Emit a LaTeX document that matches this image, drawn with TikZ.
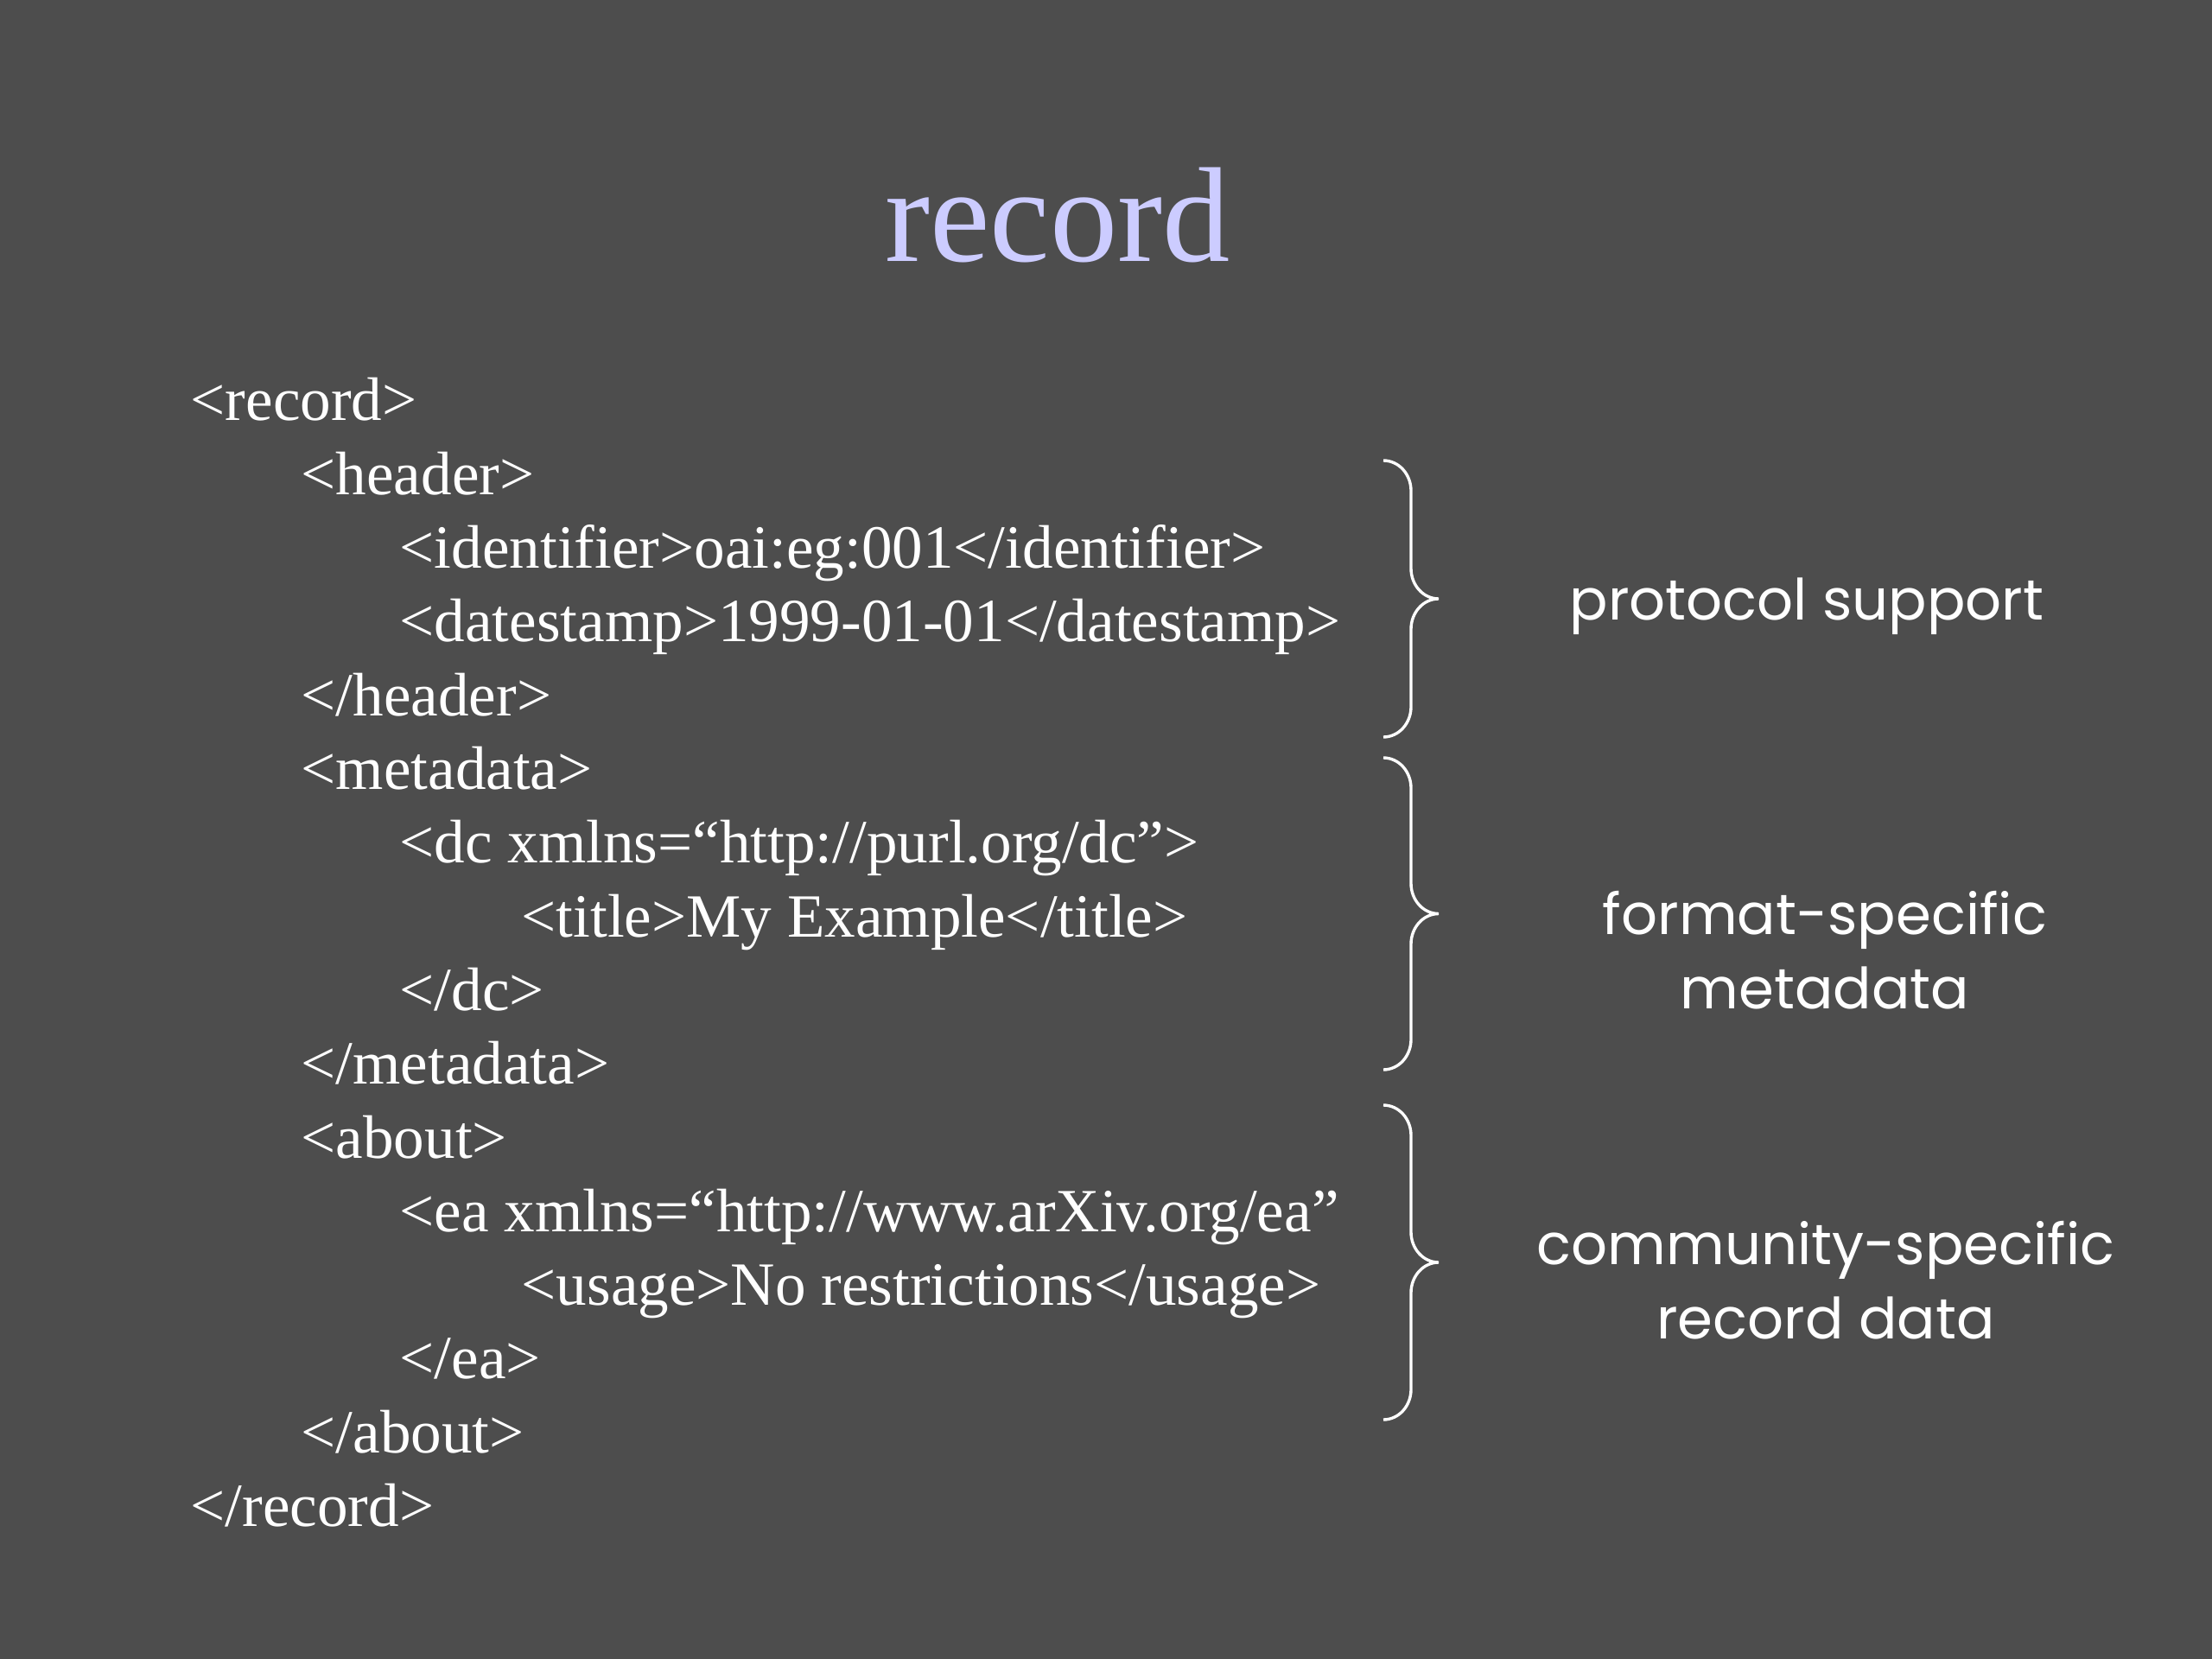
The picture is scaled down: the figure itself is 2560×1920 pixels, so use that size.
\documentclass[tikz,border=0pt]{standalone}
\usepackage{fontspec}
\setmainfont{Liberation Serif}
\newfontfamily\notefont{Poppins}
\usepackage{xcolor}
\usepackage{tikz}
\usetikzlibrary{positioning,calc}

\definecolor{slidebg}{HTML}{4D4D4D}
\definecolor{titleblue}{HTML}{CCCCFF}

\begin{document}
\begin{tikzpicture}[
					x=0.28125pt, y=-0.28125pt,
					xmlline/.style={
						anchor=base west, inner sep=0pt, text=white,
						font=\fontsize{20}{24}\selectfont
					},
					note/.style={
						anchor=base, inner sep=0pt, align=center, text=white,
						font=\notefont\fontsize{18.5}{24}\selectfont
					},
					curly/.style={
						draw=white, line width=0.95pt
					}
					]
					% fond de la diapositive
					\fill[slidebg] (0,0) rectangle (2560,1920);
					
					\node[anchor=base, inner sep=0pt, text=titleblue, font=\fontsize{44}{52}\selectfont] (title) at (1224,303) {record};
					
					% les lignes XML
					\foreach \x/\txt [count=\i] in {
						220/{<record>},
						348/{<header>},
						462/{<identifier>oai:eg:001</identifier>},
						462/{<datestamp>1999-01-01</datestamp>},
						348/{</header>},
						348/{<metadata>},
						462/{<dc xmlns=“http://purl.org/dc”>},
						603/{<title>My Example</title>},
						462/{</dc>},
						348/{</metadata>},
						348/{<about>},
						462/{<ea xmlns=“http://www.arXiv.org/ea”},
						603/{<usage>No restrictions</usage>},
						462/{</ea>},
						348/{</about>},
						220/{</record>}} {
						\node[xmlline] (line\i) at (\x,{401.7+85.3*\i}) {\txt};
					}
					
					% accolades
					\foreach \top/\bot in {533/853, 877/1238, 1279/1643} {
						\pgfmathsetmacro\mid{(\top+\bot)/2}
						\draw[curly] (1601,\top) .. controls (1619,\top) and (1633,{\top+16}) .. (1633,{\top+35})
							-- (1633,{\mid-35}) .. controls (1633,{\mid-16}) and (1647,\mid) .. (1665,\mid)
							.. controls (1647,\mid) and (1633,{\mid+16}) .. (1633,{\mid+35})
							-- (1633,{\bot-35}) .. controls (1633,{\bot-16}) and (1619,\bot) .. (1601,\bot);
					}
					
					% base = derniere ligne du texte
					\node[note] (protocol) at (2091,718) {protocol support};
					\node[note] (format) at (2112,1167) {format-specific\\metadata};
					\node[note] (community) at (2113,1549) {community-specific\\record data};
				\end{tikzpicture}
\end{document}
